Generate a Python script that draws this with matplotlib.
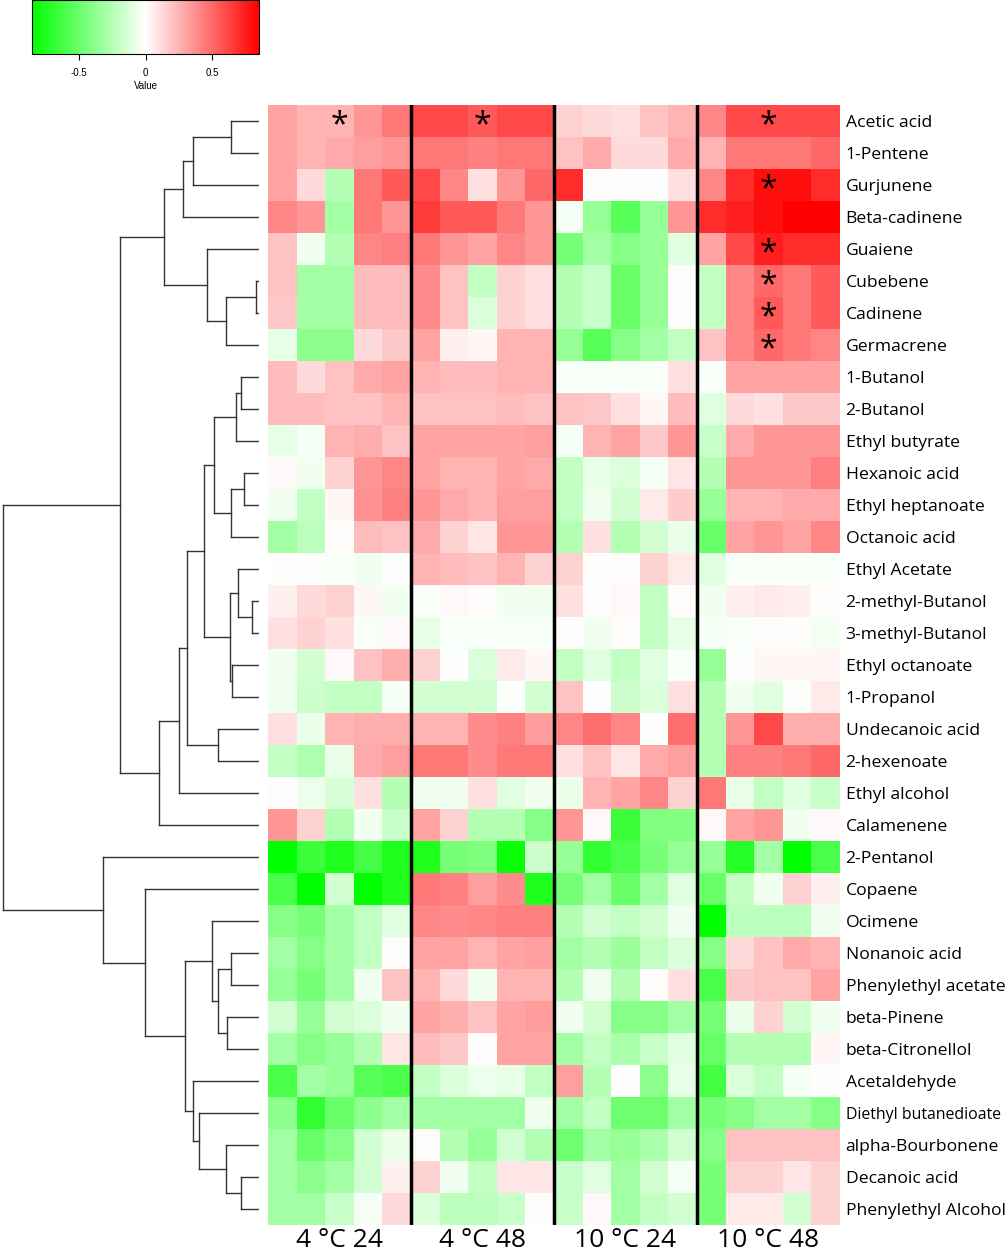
import numpy as np
import matplotlib
matplotlib.use('Agg')
from matplotlib import pyplot as plt
from matplotlib.colors import LinearSegmentedColormap

plt.rcParams['font.family'] = ['Open Sans', 'DejaVu Sans']
plt.rcParams['axes.unicode_minus'] = False

compounds = ['Acetic acid', '1-Pentene', 'Gurjunene', 'Beta-cadinene', 'Guaiene', 'Cubebene',
             'Cadinene', 'Germacrene', '1-Butanol', '2-Butanol', 'Ethyl butyrate', 'Hexanoic acid',
             'Ethyl heptanoate', 'Octanoic acid', 'Ethyl Acetate', '2-methyl-Butanol',
             '3-methyl-Butanol', 'Ethyl octanoate', '1-Propanol', 'Undecanoic acid', '2-hexenoate',
             'Ethyl alcohol', 'Calamenene', '2-Pentanol', 'Copaene', 'Ocimene', 'Nonanoic acid',
             'Phenylethyl acetate', 'beta-Pinene', 'beta-Citronellol', 'Acetaldehyde',
             'Diethyl butanedioate', 'alpha-Bourbonene', 'Decanoic acid', 'Phenylethyl Alcohol']

groups = ['4 °C 24', '4 °C 48', '10 °C 24', '10 °C 48']

# 5 replicates per group, one row per compound
t4_24 = [
    [0.3, 0.25, 0.25, 0.35, 0.45], [0.3, 0.25, 0.28, 0.32, 0.35], [0.3, 0.12, -0.25, 0.45, 0.55],
    [0.4, 0.35, -0.3, 0.45, 0.35], [0.2, -0.05, -0.25, 0.4, 0.42], [0.2, -0.3, -0.3, 0.22, 0.22],
    [0.18, -0.3, -0.3, 0.22, 0.22], [-0.08, -0.38, -0.38, 0.12, 0.18], [0.22, 0.12, 0.2, 0.28, 0.3],
    [0.22, 0.22, 0.2, 0.2, 0.25], [-0.08, -0.03, 0.25, 0.27, 0.2], [0.02, -0.05, 0.15, 0.35, 0.4],
    [-0.05, -0.2, 0.03, 0.37, 0.42], [-0.3, -0.22, 0.01, 0.22, 0.2], [0.0, -0.01, -0.02, -0.05, -0.01],
    [0.05, 0.12, 0.15, 0.03, -0.05], [0.1, 0.15, 0.1, -0.02, 0.02], [-0.05, -0.15, 0.02, 0.2, 0.27],
    [-0.05, -0.17, -0.2, -0.2, -0.03], [0.1, -0.07, 0.25, 0.27, 0.27], [-0.2, -0.27, -0.07, 0.28, 0.32],
    [0.01, -0.06, -0.13, 0.1, -0.25], [0.35, 0.15, -0.25, -0.05, -0.18], [-0.85, -0.65, -0.75, -0.62, -0.75],
    [-0.6, -0.85, -0.15, -0.85, -0.75], [-0.4, -0.45, -0.3, -0.2, -0.1], [-0.3, -0.4, -0.3, -0.2, 0.01],
    [-0.35, -0.45, -0.3, -0.05, 0.2], [-0.15, -0.35, -0.15, -0.12, -0.05], [-0.3, -0.4, -0.35, -0.25, 0.08],
    [-0.6, -0.3, -0.35, -0.55, -0.6], [-0.38, -0.68, -0.5, -0.38, -0.3], [-0.3, -0.5, -0.4, -0.15, -0.07],
    [-0.3, -0.38, -0.3, -0.15, 0.05], [-0.3, -0.3, -0.18, -0.03, 0.12]]
t4_48 = [
    [0.6, 0.6, 0.55, 0.6, 0.6], [0.45, 0.45, 0.42, 0.45, 0.45], [0.6, 0.4, 0.1, 0.35, 0.5],
    [0.65, 0.55, 0.55, 0.45, 0.35], [0.45, 0.35, 0.3, 0.4, 0.35], [0.38, 0.2, -0.2, 0.15, 0.1],
    [0.38, 0.2, -0.12, 0.15, 0.1], [0.3, 0.05, 0.03, 0.25, 0.25], [0.25, 0.22, 0.22, 0.25, 0.25],
    [0.2, 0.2, 0.2, 0.22, 0.2], [0.3, 0.3, 0.3, 0.3, 0.32], [0.3, 0.25, 0.25, 0.3, 0.28],
    [0.35, 0.28, 0.25, 0.32, 0.32], [0.28, 0.15, 0.08, 0.35, 0.35], [0.25, 0.22, 0.2, 0.25, 0.15],
    [-0.02, 0.02, 0.01, -0.05, -0.05], [-0.08, -0.02, -0.02, -0.02, -0.02], [0.15, 0.0, -0.12, 0.07, 0.03],
    [-0.15, -0.15, -0.15, -0.01, -0.15], [0.25, 0.25, 0.38, 0.42, 0.33], [0.45, 0.45, 0.38, 0.45, 0.45],
    [-0.05, -0.05, 0.1, -0.1, -0.05], [0.3, 0.15, -0.25, -0.25, -0.4], [-0.75, -0.45, -0.43, -0.82, -0.17],
    [0.45, 0.42, 0.32, 0.38, -0.75], [0.4, 0.38, 0.4, 0.42, 0.42], [0.3, 0.3, 0.25, 0.3, 0.32],
    [0.25, 0.12, -0.05, 0.25, 0.25], [0.3, 0.27, 0.2, 0.3, 0.33], [0.22, 0.18, 0.01, 0.3, 0.3],
    [-0.2, -0.12, -0.06, -0.08, -0.2], [-0.3, -0.3, -0.3, -0.3, -0.05], [0.01, -0.25, -0.35, -0.15, -0.25],
    [0.15, -0.05, -0.2, 0.08, 0.08], [-0.12, -0.22, -0.22, -0.18, 0.01]]
t10_24 = [
    [0.15, 0.12, 0.1, 0.2, 0.25], [0.2, 0.28, 0.12, 0.12, 0.28], [0.7, 0.0, 0.0, 0.0, 0.1],
    [-0.03, -0.35, -0.55, -0.35, 0.35], [-0.45, -0.3, -0.4, -0.35, -0.1], [-0.25, -0.18, -0.5, -0.35, 0.01],
    [-0.25, -0.18, -0.5, -0.35, 0.01], [-0.35, -0.55, -0.4, -0.3, -0.2], [-0.02, -0.02, -0.02, -0.02, 0.1],
    [0.2, 0.18, 0.1, 0.03, 0.22], [-0.03, 0.25, 0.3, 0.18, 0.35], [-0.2, -0.08, -0.12, -0.03, 0.08],
    [-0.2, -0.05, -0.15, 0.07, 0.17], [-0.25, 0.1, -0.25, -0.15, -0.07], [0.15, 0.01, 0.01, 0.15, 0.07],
    [0.1, 0.01, 0.02, -0.2, 0.01], [0.01, -0.05, 0.01, -0.2, -0.08], [-0.2, -0.1, -0.2, -0.1, -0.02],
    [0.2, 0.0, -0.17, -0.12, 0.1], [0.4, 0.48, 0.4, -0.01, 0.48], [0.1, 0.2, 0.08, 0.28, 0.32],
    [-0.07, 0.25, 0.3, 0.4, 0.15], [0.35, 0.02, -0.65, -0.42, -0.42], [-0.35, -0.68, -0.6, -0.45, -0.35],
    [-0.45, -0.3, -0.5, -0.3, -0.1], [-0.25, -0.15, -0.2, -0.15, -0.05], [-0.3, -0.25, -0.33, -0.2, -0.12],
    [-0.25, -0.05, -0.25, 0.01, 0.1], [-0.05, -0.15, -0.4, -0.4, -0.3], [-0.3, -0.2, -0.28, -0.18, -0.1],
    [0.32, -0.25, 0.0, -0.38, -0.08], [-0.3, -0.2, -0.48, -0.48, -0.3], [-0.48, -0.3, -0.35, -0.28, -0.15],
    [-0.18, -0.1, -0.3, -0.15, -0.03], [-0.18, 0.02, -0.3, -0.2, -0.15]]
t10_48 = [
    [0.4, 0.6, 0.6, 0.6, 0.6], [0.25, 0.45, 0.45, 0.45, 0.5], [0.4, 0.7, 0.8, 0.8, 0.7],
    [0.7, 0.75, 0.8, 0.85, 0.85], [0.3, 0.6, 0.75, 0.7, 0.7], [-0.2, 0.4, 0.5, 0.45, 0.55],
    [-0.2, 0.4, 0.55, 0.45, 0.55], [0.2, 0.4, 0.5, 0.45, 0.4], [-0.02, 0.3, 0.3, 0.3, 0.3],
    [-0.1, 0.12, 0.1, 0.18, 0.18], [-0.18, 0.28, 0.35, 0.35, 0.35], [-0.25, 0.35, 0.35, 0.35, 0.42],
    [-0.35, 0.25, 0.25, 0.28, 0.28], [-0.5, 0.3, 0.35, 0.3, 0.4], [-0.1, -0.02, -0.02, -0.02, -0.02],
    [-0.05, 0.05, 0.07, 0.05, 0.01], [-0.03, -0.02, 0.01, 0.01, -0.04], [-0.35, 0.0, 0.03, 0.03, 0.03],
    [-0.25, -0.05, -0.1, -0.01, 0.07], [-0.25, 0.35, 0.6, 0.27, 0.27], [-0.25, 0.42, 0.42, 0.45, 0.5],
    [0.45, -0.07, -0.2, -0.1, -0.18], [0.02, 0.3, 0.35, -0.05, 0.02], [-0.35, -0.72, -0.3, -0.85, -0.6],
    [-0.5, -0.2, -0.05, 0.15, 0.05], [-0.85, -0.22, -0.22, -0.22, -0.05], [-0.4, 0.12, 0.2, 0.28, 0.25],
    [-0.6, 0.18, 0.2, 0.2, 0.3], [-0.45, -0.07, 0.15, -0.15, -0.05], [-0.5, -0.25, -0.25, -0.25, 0.03],
    [-0.62, -0.12, -0.2, -0.03, 0.0], [-0.45, -0.4, -0.3, -0.3, -0.4], [-0.4, 0.2, 0.2, 0.2, 0.2],
    [-0.45, 0.15, 0.15, 0.08, 0.15], [-0.45, 0.07, 0.07, -0.15, 0.15]]

# significant cells (row, column)
star_rows = [0, 0, 0, 2, 4, 5, 6, 7]
star_cols = [2, 7, 17, 17, 17, 17, 17, 17]

# row clustering: (child a, child b, height); leaves 0..34, merges 35..
merges = [
    (0, 1, 28), (35, 2, 66), (36, 3, 76), (5, 6, 3), (38, 7, 33), (4, 39, 52), (37, 40, 95),
    (8, 9, 18), (42, 10, 23), (11, 12, 15), (44, 13, 28), (43, 45, 45), (15, 16, 7), (14, 47, 21),
    (17, 18, 27), (48, 49, 29), (46, 50, 55), (19, 20, 41), (51, 52, 72), (53, 21, 80),
    (54, 22, 100), (41, 55, 139), (26, 27, 28), (28, 29, 32), (57, 58, 41), (25, 59, 47),
    (33, 34, 18), (32, 61, 33), (31, 62, 60), (30, 63, 66), (60, 64, 74), (24, 65, 114),
    (23, 66, 156), (56, 67, 256)]

data = np.hstack([np.array(t4_24), np.array(t4_48), np.array(t10_24), np.array(t10_48)])
n_rows, n_cols = data.shape

cmap = LinearSegmentedColormap.from_list('gwr', ['#00ff00', '#ffffff', '#ff0000'])

W, H = 1008, 1259
fig = plt.figure(figsize=(W / 100, H / 100), dpi=100)

hm_l, hm_r, hm_t, hm_b = 268, 840, 105, 1225
ax = fig.add_axes([hm_l / W, 1 - hm_b / H, (hm_r - hm_l) / W, (hm_b - hm_t) / H])
im = ax.imshow(data, cmap=cmap, vmin=-0.85, vmax=0.85, aspect='auto', interpolation='nearest')
for s in ax.spines.values():
    s.set_visible(False)
ax.yaxis.tick_right()
ax.set_yticks(range(n_rows))
ax.set_yticklabels(compounds, fontsize=12.6)
for lab in ax.get_yticklabels():
    if len(lab.get_text()) > 19:
        lab.set_fontsize(11.4)
ax.tick_params(axis='y', length=0, pad=4)
ax.set_xticks([2, 7, 12, 17])
ax.set_xticklabels(groups, fontsize=19)
ax.tick_params(axis='x', length=0, pad=2)
for b in [4.5, 9.5, 14.5]:
    ax.axvline(b, color='black', lw=2.5)
for r, c in zip(star_rows, star_cols):
    ax.text(c, r + 0.15, '*', ha='center', va='center', fontsize=23, color='black')
ax.set_ylim(n_rows - 0.5, -0.5)

# dendrogram
dax = fig.add_axes([0, 1 - hm_b / H, 259 / W, (hm_b - hm_t) / H])
pos = {i: float(i) for i in range(n_rows)}
hgt = {i: 0.0 for i in range(n_rows)}
for k, (a, b, h) in enumerate(merges):
    nid = n_rows + k
    for c in (a, b):
        dax.plot([hgt[c], h], [pos[c], pos[c]], color='#333333', lw=1)
    dax.plot([h, h], [pos[a], pos[b]], color='#333333', lw=1)
    pos[nid] = (pos[a] + pos[b]) / 2
    hgt[nid] = h
dax.set_xlim(259, 0)
dax.set_ylim(n_rows - 0.5, -0.5)
dax.axis('off')

# colour key
cax = fig.add_axes([32 / W, 1 - 54 / H, 227 / W, 54 / H])
cb = fig.colorbar(im, cax=cax, orientation='horizontal', ticks=[-0.5, 0, 0.5])
cb.ax.set_xticklabels(['-0.5', '0', '0.5'], fontsize=7, family=['Liberation Sans'])
cb.ax.tick_params(length=4, width=0.8, pad=6)
cb.set_label('Value', fontsize=7, family=['Liberation Sans'], labelpad=2)
cb.outline.set_linewidth(0.8)

fig.savefig('out.png', dpi=100)
